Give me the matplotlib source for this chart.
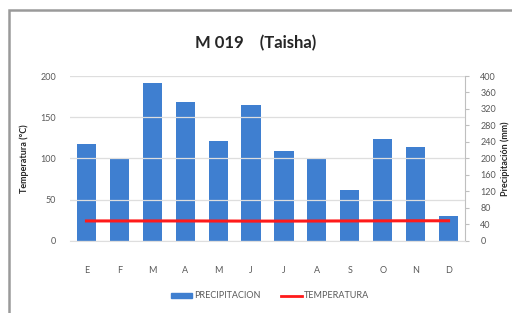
import matplotlib
matplotlib.use("Agg")
import matplotlib.pyplot as plt
from matplotlib.patches import Rectangle
from matplotlib.lines import Line2D
from matplotlib.patches import Patch

plt.rcParams["font.family"] = ["Lato", "DejaVu Sans"]

meses = ["E", "F", "M", "A", "M", "J", "J", "A", "S", "O", "N", "D"]
precipitacion = [234, 198, 382, 336, 243, 329, 218, 198, 123, 246, 228, 60]
temperatura = [24.0, 24.0, 24.0, 24.0, 23.9, 23.8, 23.8, 23.9, 24.0, 24.1, 24.2, 24.2]

azul = "#3f7fd0"
rojo = "#ff1a1a"
gris_txt = "#595959"

fig = plt.figure(figsize=(5.12, 3.13), dpi=100)
fig.patch.set_facecolor("white")

# marco gris del grafico
fig.patches.append(Rectangle((9 / 512, -0.1), 1.2, 1 - 10 / 313 + 0.1, transform=fig.transFigure,
                             fill=False, edgecolor="#9a9a9a", linewidth=1.8))

ax = fig.add_axes([70 / 512, 1 - 240.7 / 313, (465 - 70) / 512, (240.7 - 76) / 313])
ax2 = ax.twinx()

x = list(range(len(meses)))
ax2.bar(x, precipitacion, width=0.58, color=azul, zorder=2)
ax2.set_ylim(0, 400)
ax2.set_yticks(range(0, 401, 40))

ax.plot(x, temperatura, color=rojo, linewidth=2.2, zorder=5)
ax.set_ylim(0, 200)
ax.set_yticks([0, 50, 100, 150, 200])
ax.set_xlim(-0.5, 11.5)
ax.set_xticks(x)
ax.set_xticklabels(meses)

# linea roja por encima de las barras
ax.set_zorder(ax2.get_zorder() + 1)
ax.patch.set_visible(False)

ax.grid(axis="y", color="#dedede", linewidth=0.9, zorder=0)
ax.set_axisbelow(True)

for a in (ax, ax2):
    for s in ["top", "left", "bottom", "right"]:
        a.spines[s].set_visible(False)
ax.spines["bottom"].set_visible(True)
ax.spines["bottom"].set_color("#dedede")
ax2.spines["right"].set_visible(True)
ax2.spines["right"].set_color("#bfbfbf")

ax.tick_params(axis="x", length=0, pad=18, labelsize=6.5, labelcolor=gris_txt)
ax.tick_params(axis="y", length=0, pad=10, labelsize=6.5, labelcolor=gris_txt)
ax2.tick_params(axis="y", length=3, color="#bfbfbf", pad=8, labelsize=6.5, labelcolor=gris_txt)

ax.set_ylabel("Temperatura (°C)", fontsize=6.5, fontweight="bold", color="#262626", labelpad=8)
ax2.set_ylabel("Precipitación (mm)", fontsize=6.5, fontweight="bold", color="#262626",
               rotation=90, labelpad=3)

fig.text(0.5, 1 - 43 / 313, "M 019    (Taisha)", ha="center", va="center",
         fontsize=12, fontweight="bold", color="#262626")

handles = [Patch(facecolor=azul, edgecolor=azul), Line2D([0], [0], color=rojo, linewidth=2)]
fig.legend(handles, ["PRECIPITACION", "TEMPERATURA"], loc="center", ncol=2,
           bbox_to_anchor=(270 / 512, 1 - 296 / 313), frameon=False, fontsize=6.5,
           labelcolor=gris_txt, handlelength=2.4, handleheight=0.45, columnspacing=2.2,
           handletextpad=0.2)

fig.savefig("out.png", dpi=100)
